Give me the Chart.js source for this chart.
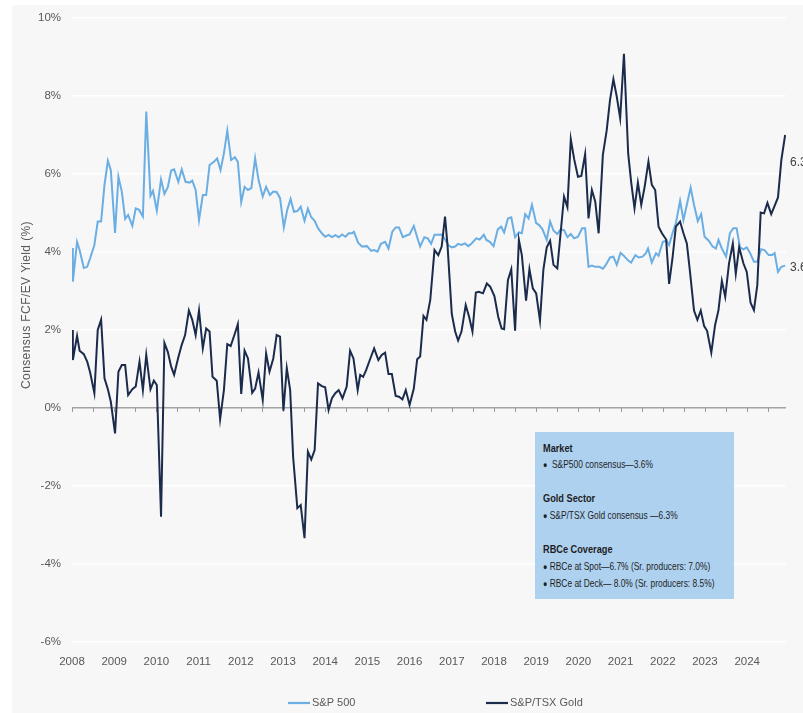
<!DOCTYPE html>
<html><head><meta charset="utf-8">
<script src="https://cdn.jsdelivr.net/npm/chart.js@4.4.1/dist/chart.umd.min.js"></script>
<style>
html,body{margin:0;padding:0;background:#fff;}
#wrap{position:relative;width:803px;height:713px;overflow:hidden;}
#c{position:absolute;left:0;top:0;}
#note{position:absolute;left:535px;top:432px;width:199px;height:167px;background:#aed1f0;box-sizing:border-box;padding:7.7px 0 0 8px;font-family:'Liberation Sans Narrow','Arial Narrow','Liberation Sans',Arial,sans-serif;font-size:10.5px;line-height:16.6px;color:#1e1e1e;white-space:nowrap;}
#note div{transform:scaleX(0.8);transform-origin:0 50%;}
#note b{font-weight:bold;font-size:11.5px;}
#note .bl{font-size:9px;}
</style></head>
<body>
<div id="wrap">
<canvas id="c" width="803" height="713"></canvas>
<div id="note">
<div><b>Market</b></div>
<div><span class="bl">&#9679;</span>&nbsp; S&amp;P500 consensus&#8212;3.6%</div>
<div>&nbsp;</div>
<div><b>Gold Sector</b></div>
<div><span class="bl">&#9679;</span> S&amp;P/TSX Gold consensus &#8212;6.3%</div>
<div>&nbsp;</div>
<div><b>RBCe Coverage</b></div>
<div><span class="bl">&#9679;</span> RBCe at Spot&#8212;6.7% (Sr. producers: 7.0%)</div>
<div><span class="bl">&#9679;</span> RBCe at Deck&#8212; 8.0% (Sr. producers: 8.5%)</div>
</div>
</div>
<script>
// ---- data (decimal years, % values) ----
const seriesNames = ['S&P 500', 'S&P/TSX Gold'];
const yTicks = [-6, -4, -2, 0, 2, 4, 6, 8, 10];
const xYearLabels = [2008,2009,2010,2011,2012,2013,2014,2015,2016,2017,2018,2019,2020,2021,2022,2023,2024];
const endLabelValues = [6.3, 3.6];
const endLabelTexts = ['6.3', '3.6'];

const spxYears = [2008.00,2008.02,2008.12,2008.18,2008.28,2008.36,2008.43,2008.53,2008.61,2008.69,2008.77,2008.85,2008.92,
2009.02,2009.10,2009.18,2009.26,2009.33,2009.43,2009.51,2009.59,2009.68,2009.76,2009.86,2009.92,
2010.01,2010.11,2010.19,2010.27,2010.35,2010.42,2010.52,2010.60,2010.69,2010.79,2010.85,2010.93,
2011.01,2011.10,2011.18,2011.26,2011.37,2011.44,2011.52,2011.60,2011.68,2011.77,2011.86,2011.93,
2012.01,2012.09,2012.17,2012.25,2012.34,2012.42,2012.52,2012.60,2012.69,2012.77,2012.85,2012.93,
2013.02,2013.10,2013.18,2013.26,2013.34,2013.42,2013.51,2013.59,2013.67,2013.75,2013.83,2013.92,
2014.00,2014.08,2014.16,2014.24,2014.32,2014.40,2014.48,2014.56,2014.64,2014.68,2014.78,2014.87,2014.99,
2015.09,2015.16,2015.24,2015.32,2015.42,2015.50,2015.59,2015.67,2015.75,2015.84,2015.94,
2016.00,2016.10,2016.18,2016.25,2016.35,2016.43,2016.51,2016.59,2016.67,2016.76,2016.84,2016.92,
2017.00,2017.08,2017.15,2017.23,2017.31,2017.39,2017.47,2017.58,2017.66,2017.76,2017.82,2017.90,2017.99,
2018.09,2018.17,2018.24,2018.33,2018.41,2018.50,2018.59,2018.66,2018.74,2018.82,2018.90,
2019.00,2019.07,2019.15,2019.25,2019.33,2019.41,2019.50,2019.58,2019.66,2019.74,2019.82,2019.90,2019.99,
2020.09,2020.16,2020.24,2020.32,2020.40,2020.50,2020.58,2020.65,2020.75,2020.83,2020.91,
2021.00,2021.08,2021.18,2021.25,2021.35,2021.43,2021.52,2021.60,2021.65,2021.74,2021.84,2021.90,
2022.00,2022.09,2022.15,2022.23,2022.31,2022.41,2022.49,2022.57,2022.66,2022.74,2022.83,2022.91,2022.99,
2023.09,2023.18,2023.26,2023.32,2023.40,2023.50,2023.59,2023.67,2023.75,2023.83,2023.91,2023.99,
2024.07,2024.16,2024.24,2024.33,2024.41,2024.51,2024.59,2024.65,2024.73,2024.81,2024.90];
const spxValues = [4.10,3.24,4.26,4.05,3.59,3.62,3.84,4.18,4.78,4.78,5.72,6.34,6.10,
4.49,5.93,5.55,4.85,4.95,4.67,5.12,5.08,4.91,7.60,5.44,5.57,
5.06,5.86,5.49,5.66,6.09,6.12,5.80,6.12,5.80,5.78,5.83,5.59,
4.82,5.46,5.46,6.23,6.32,6.40,6.10,6.53,7.11,6.36,6.43,6.31,
5.28,5.67,5.59,5.64,6.40,5.85,5.42,5.67,5.46,5.55,5.54,5.38,
4.63,5.08,5.36,5.03,5.05,5.16,4.80,5.11,4.89,4.80,4.61,4.48,
4.39,4.44,4.38,4.43,4.38,4.45,4.39,4.48,4.48,4.52,4.24,4.14,4.15,
4.03,4.05,4.01,4.21,4.26,4.09,4.52,4.63,4.63,4.38,4.43,
4.45,4.67,4.38,4.14,4.38,4.35,4.21,4.44,4.44,4.45,4.32,4.17,
4.12,4.14,4.21,4.18,4.22,4.15,4.22,4.35,4.32,4.44,4.31,4.26,4.15,
4.58,4.65,4.50,4.86,4.89,4.38,4.50,4.48,4.97,4.86,5.21,
4.74,4.69,4.58,4.31,4.78,4.55,4.46,4.58,4.56,4.38,4.46,4.35,4.39,
4.61,4.61,3.62,3.65,3.62,3.62,3.57,3.67,3.86,3.88,3.67,
3.98,3.90,3.78,3.73,3.92,3.86,3.88,3.97,4.09,3.73,3.97,3.90,
4.26,4.29,4.18,4.48,4.74,5.31,4.82,5.21,5.65,5.21,4.79,4.97,4.39,
4.29,4.14,4.09,4.31,4.09,3.88,4.48,4.61,4.61,4.12,4.07,4.12,
3.97,3.75,3.75,4.07,4.05,3.92,3.92,3.97,3.49,3.62,3.65];

const goldYears = [2008.00,2008.02,2008.12,2008.18,2008.28,2008.36,2008.43,2008.53,2008.61,2008.69,2008.77,2008.85,2008.92,
2009.02,2009.10,2009.18,2009.26,2009.33,2009.43,2009.51,2009.60,2009.68,2009.76,2009.86,2009.94,
2010.01,2010.11,2010.19,2010.27,2010.35,2010.42,2010.52,2010.60,2010.68,2010.77,2010.85,2010.93,
2011.01,2011.10,2011.18,2011.26,2011.33,2011.43,2011.51,2011.60,2011.68,2011.76,2011.86,2011.93,
2012.01,2012.09,2012.17,2012.27,2012.34,2012.42,2012.52,2012.60,2012.68,2012.77,2012.85,2012.93,
2013.01,2013.09,2013.17,2013.24,2013.34,2013.42,2013.51,2013.59,2013.67,2013.75,2013.83,2013.92,
2014.00,2014.08,2014.16,2014.24,2014.32,2014.41,2014.51,2014.59,2014.67,2014.77,2014.83,2014.90,2014.97,
2015.07,2015.16,2015.26,2015.34,2015.42,2015.50,2015.58,2015.67,2015.75,2015.83,2015.91,
2016.00,2016.10,2016.18,2016.25,2016.33,2016.40,2016.49,2016.59,2016.68,2016.76,2016.84,2016.90,
2017.00,2017.08,2017.15,2017.23,2017.33,2017.41,2017.49,2017.57,2017.64,2017.74,2017.83,2017.91,
2018.01,2018.10,2018.18,2018.24,2018.33,2018.41,2018.50,2018.59,2018.66,2018.76,2018.84,2018.92,
2019.00,2019.09,2019.17,2019.25,2019.33,2019.41,2019.50,2019.58,2019.66,2019.74,2019.82,2019.90,2019.99,
2020.07,2020.16,2020.24,2020.32,2020.40,2020.48,2020.58,2020.67,2020.75,2020.83,2020.91,2020.99,
2021.08,2021.18,2021.25,2021.33,2021.41,2021.49,2021.57,2021.66,2021.74,2021.82,2021.90,2021.98,
2022.08,2022.15,2022.23,2022.31,2022.41,2022.49,2022.57,2022.64,2022.74,2022.82,2022.90,2022.98,
2023.05,2023.15,2023.24,2023.32,2023.40,2023.48,2023.57,2023.66,2023.73,2023.81,2023.91,2023.99,
2024.08,2024.16,2024.24,2024.32,2024.40,2024.48,2024.57,2024.65,2024.73,2024.81,2024.90];
const goldValues = [2.00,1.23,1.85,1.47,1.38,1.19,0.91,0.38,2.00,2.26,0.76,0.48,0.16,
-0.65,0.93,1.10,1.10,0.33,0.48,0.55,1.19,0.46,1.36,0.48,0.70,
0.59,-2.79,1.67,1.44,1.06,0.85,1.30,1.62,1.87,2.50,2.26,1.87,
2.50,1.53,2.04,1.96,0.80,0.70,-0.29,0.46,1.64,1.59,1.91,2.15,
0.36,1.47,1.27,0.39,0.50,0.91,0.21,1.40,0.93,1.27,1.87,1.83,
-0.07,1.02,0.46,-1.25,-2.57,-2.49,-3.34,-1.12,-1.32,-1.08,0.63,0.56,
0.53,-0.05,0.25,0.38,0.46,0.25,0.55,1.47,1.27,0.46,0.85,0.80,0.97,
1.27,1.53,1.23,1.36,1.42,0.87,0.87,0.31,0.29,0.22,0.46,
0.08,0.50,1.25,1.32,2.36,2.26,2.77,4.05,3.92,4.14,4.91,4.15,
2.41,1.96,1.73,1.96,2.64,2.34,1.96,2.96,2.98,2.94,3.19,3.11,
2.87,2.34,2.04,2.02,3.28,3.56,1.98,4.31,3.92,2.75,3.56,3.07,
2.94,2.24,3.54,4.12,4.29,3.67,3.58,4.50,5.42,5.15,6.89,6.38,5.93,
5.95,6.51,4.86,5.59,5.29,4.48,6.49,7.11,7.90,8.43,7.98,7.43,
9.08,6.53,5.80,5.12,5.78,5.21,5.67,6.32,5.72,5.59,4.65,4.48,
4.32,3.18,3.84,4.65,4.78,4.48,4.22,3.54,2.50,2.26,2.50,2.10,
1.98,1.42,2.13,2.51,3.26,2.85,3.71,4.22,3.44,4.12,3.71,3.49,
2.70,2.51,3.15,5.01,4.99,5.26,4.97,5.18,5.40,6.36,7.00];

// ---- style ----
const NARROW = "'Liberation Sans Narrow','Arial Narrow','Liberation Sans',Arial,sans-serif";
const colSpx = '#6aaee3';
const colGold = '#1b2b4c';

const toXY = (xs, ys) => xs.map((x, i) => ({x: x, y: ys[i]}));

const bgPlugin = {
  id: 'bg',
  beforeDraw(chart) {
    const ctx = chart.ctx;
    ctx.save();
    ctx.fillStyle = '#ffffff';
    ctx.fillRect(0, 0, chart.width, chart.height);
    ctx.fillStyle = '#f7f7f7';
    ctx.fillRect(12, 5, chart.width - 12, chart.height - 5);
    ctx.restore();
  }
};

const zeroTicksPlugin = {
  id: 'zeroTicks',
  beforeDatasetsDraw(chart) {
    const ctx = chart.ctx, xs = chart.scales.x, ys = chart.scales.y;
    const y0 = ys.getPixelForValue(0);
    ctx.save();
    ctx.strokeStyle = '#9a9a9a';
    ctx.lineWidth = 1;
    for (let t = xs.min; t <= xs.max; t += 0.5) {
      const px = Math.round(xs.getPixelForValue(t)) + 0.5;
      ctx.beginPath(); ctx.moveTo(px, y0); ctx.lineTo(px, y0 + 4); ctx.stroke();
    }
    ctx.restore();
  }
};

const extrasPlugin = {
  id: 'extras',
  afterDraw(chart) {
    const ctx = chart.ctx, ys = chart.scales.y, ca = chart.chartArea;
    ctx.save();
    // y-axis title
    ctx.translate(27, 305);
    ctx.rotate(-Math.PI / 2);
    ctx.fillStyle = '#595959';
    ctx.font = "12px 'Liberation Sans', Arial, sans-serif";
    if ('letterSpacing' in ctx) ctx.letterSpacing = '0.4px';
    ctx.textAlign = 'center';
    ctx.textBaseline = 'middle';
    ctx.fillText('Consensus FCF/EV Yield (%)', 0, 0);
    ctx.restore();

    // end labels
    ctx.save();
    ctx.fillStyle = '#404040';
    ctx.font = '12px ' + NARROW;
    ctx.textAlign = 'left';
    ctx.textBaseline = 'middle';
    endLabelValues.forEach((v, i) => {
      ctx.fillText(endLabelTexts[i], ca.right + 4, ys.getPixelForValue(v));
    });
    ctx.restore();

    // legend
    ctx.save();
    const starts = [288, 486];
    ctx.font = '11px ' + NARROW;
    ctx.textBaseline = 'middle';
    ctx.textAlign = 'left';
    chart.data.datasets.slice().sort((a, b) => a.legendIndex - b.legendIndex).forEach((ds, i) => {
      const x = starts[i], y = 703;
      ctx.strokeStyle = ds.borderColor;
      ctx.lineWidth = 2.2;
      ctx.beginPath(); ctx.moveTo(x, y); ctx.lineTo(x + 22, y); ctx.stroke();
      ctx.fillStyle = '#595959';
      ctx.fillText(ds.label, x + 24, y);
    });
    ctx.restore();
  }
};

new Chart(document.getElementById('c'), {
  type: 'line',
  data: {
    datasets: [
      {label: seriesNames[1], legendIndex: 1, data: toXY(goldYears, goldValues), borderColor: colGold, borderWidth: 2, pointRadius: 0, tension: 0, order: 0},
      {label: seriesNames[0], legendIndex: 0, data: toXY(spxYears, spxValues), borderColor: colSpx, borderWidth: 2, pointRadius: 0, tension: 0, order: 1}
    ]
  },
  options: {
    responsive: false,
    animation: false,
    events: [],
    layout: {padding: {left: 0, top: 18, right: 17, bottom: 0}},
    plugins: {legend: {display: false}, tooltip: {enabled: false}, title: {display: false}},
    scales: {
      x: {
        type: 'linear',
        min: 2008, max: 2024.92,
        border: {display: false},
        grid: {display: false, drawTicks: false},
        afterBuildTicks: s => { s.ticks = xYearLabels.map(v => ({value: v})); },
        afterFit: s => { s.height = 71; },
        ticks: {
          includeBounds: false,
          autoSkip: false, maxRotation: 0, padding: 13,
          color: '#595959',
          font: {family: NARROW, size: 11.5},
          callback: v => String(v)
        }
      },
      y: {
        min: -6, max: 10,
        border: {display: false},
        afterBuildTicks: s => { s.ticks = yTicks.map(v => ({value: v})); },
        afterFit: s => { s.width = 72; },
        grid: {
          drawTicks: false,
          color: c => c.tick && c.tick.value === 0 ? '#a3a3a3' : '#ffffff',
          lineWidth: 1.5
        },
        ticks: {
          padding: 11,
          color: '#595959',
          font: {family: NARROW, size: 11.5},
          callback: v => v + '%'
        }
      }
    }
  },
  plugins: [bgPlugin, zeroTicksPlugin, extrasPlugin]
});
</script>
</body></html>
